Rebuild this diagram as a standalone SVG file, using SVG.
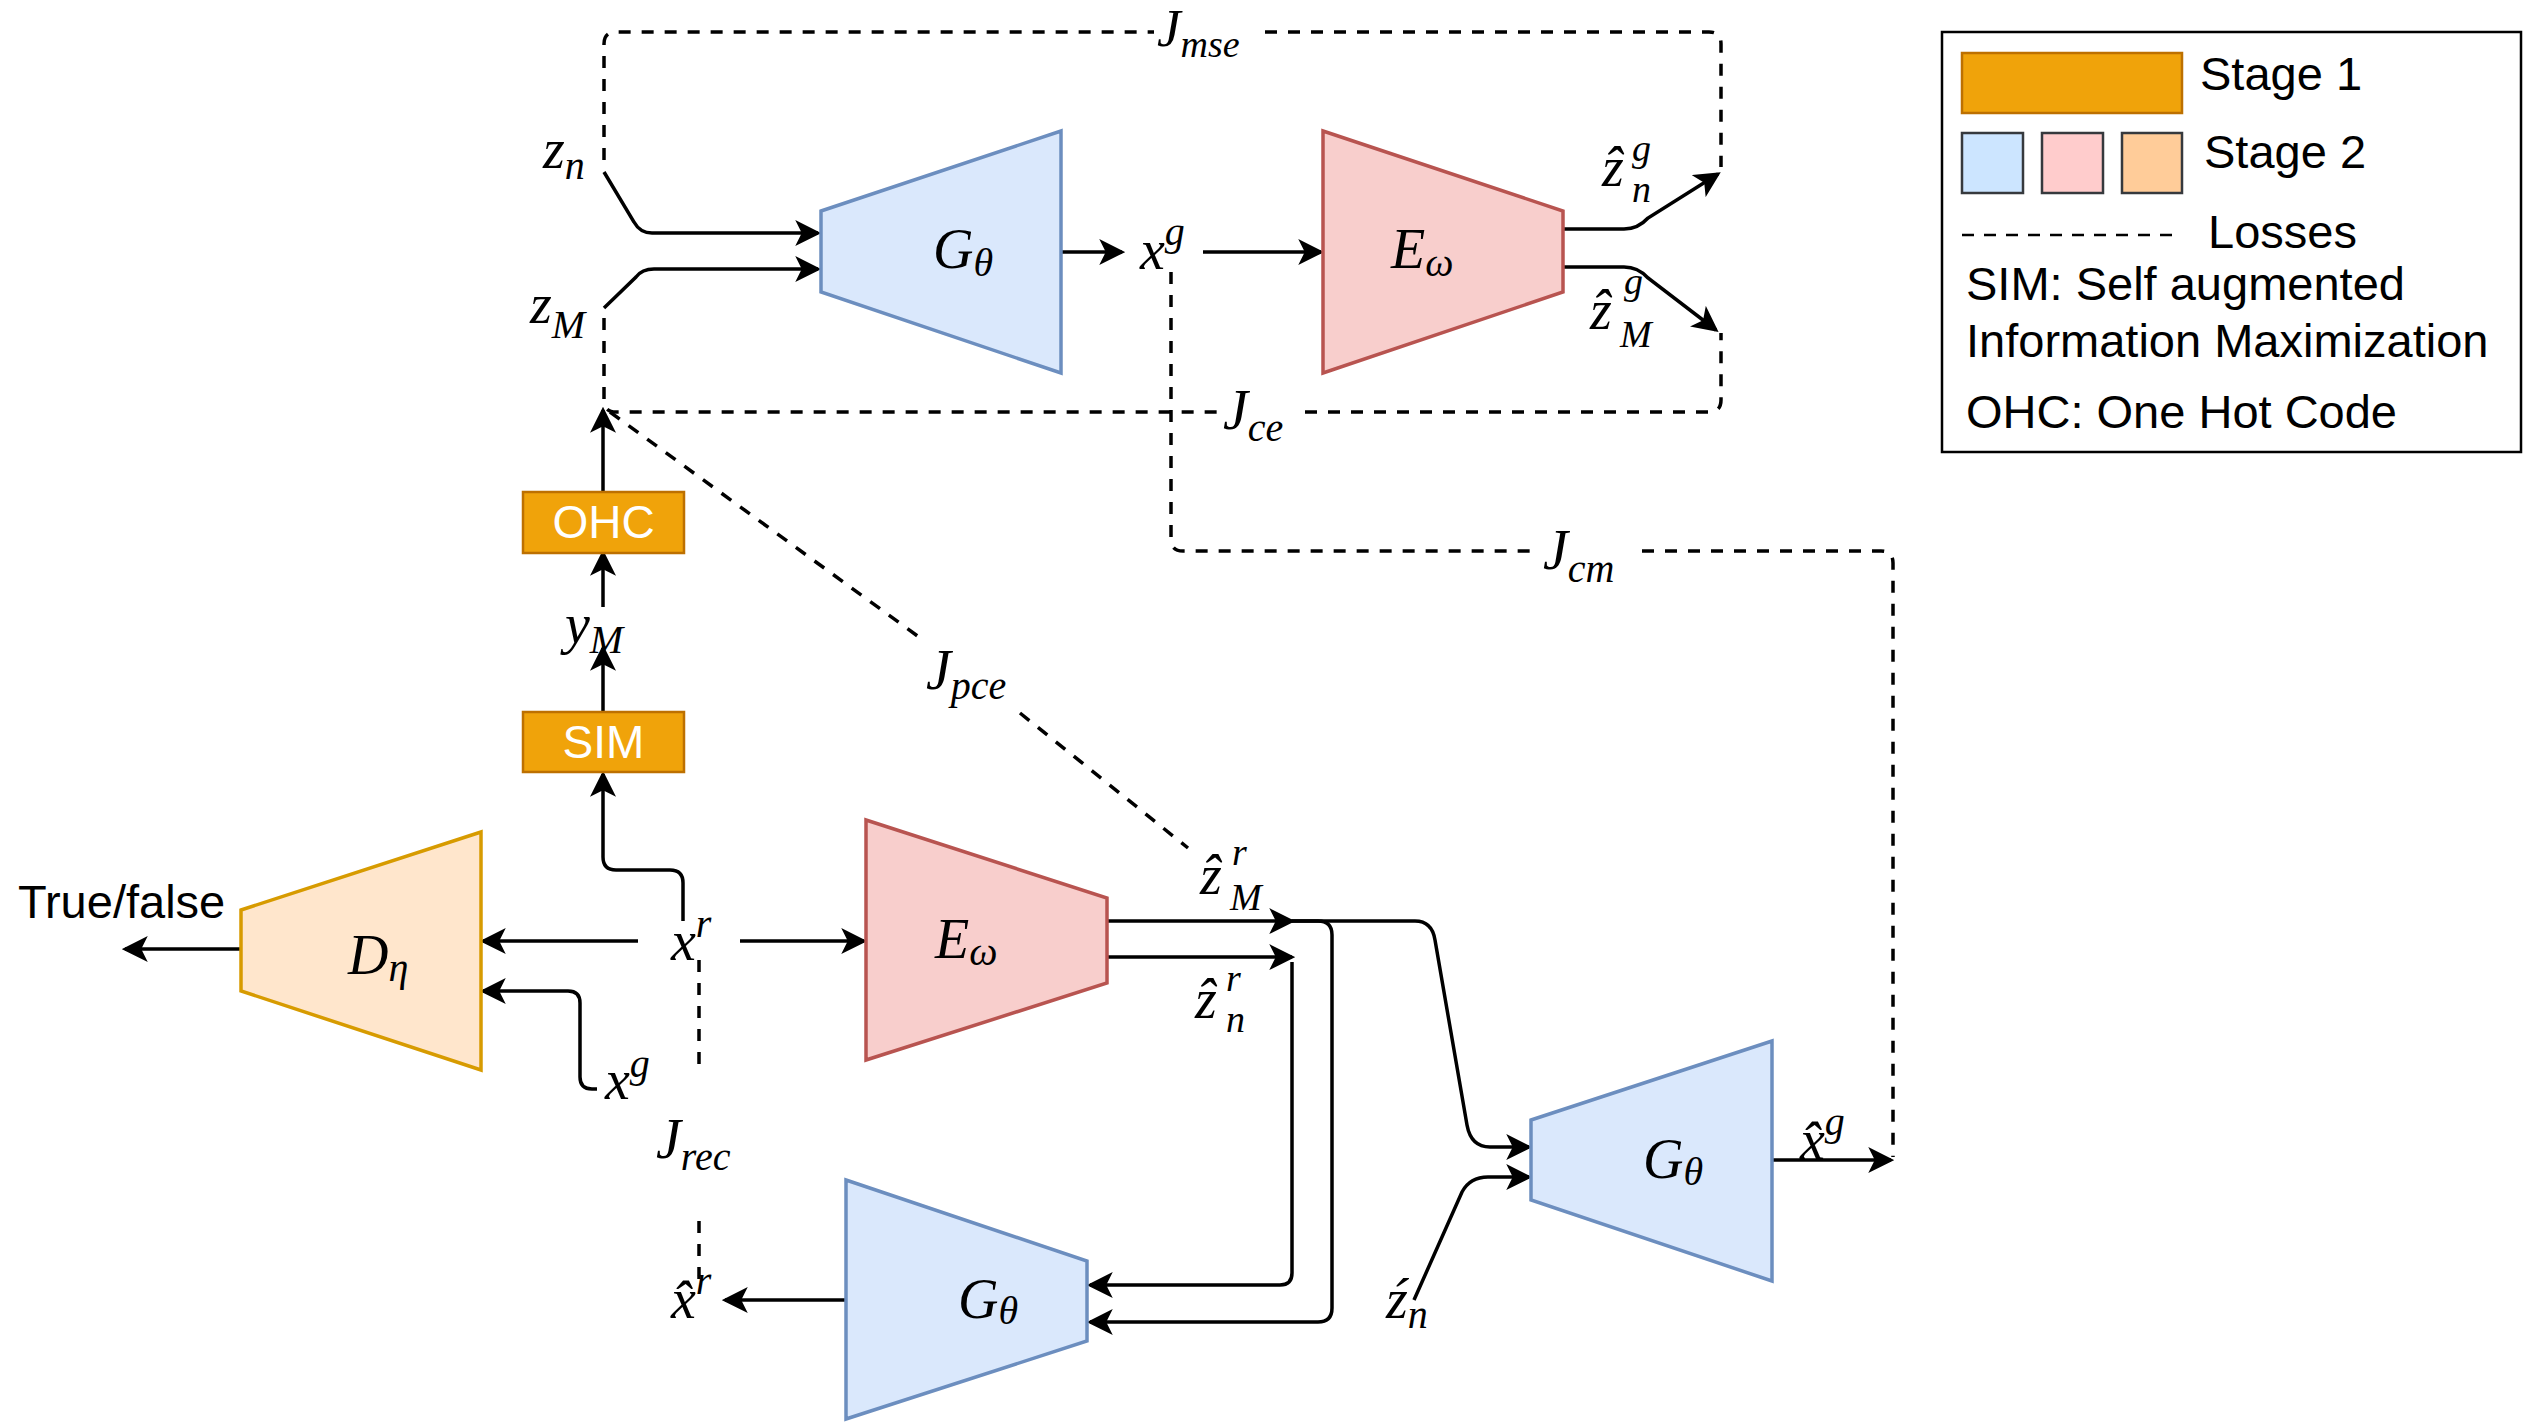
<svg xmlns="http://www.w3.org/2000/svg" width="2525" height="1428" viewBox="0 0 2525 1428">
<defs>
<marker id="ah" markerUnits="userSpaceOnUse" markerWidth="26" markerHeight="26" viewBox="0 0 24 24" refX="21" refY="12" orient="auto">
<path d="M0,0 L24,12 L0,24 L6,12 Z" fill="#000"/>
</marker>
</defs>
<style>
.g{fill:#dae8fc;stroke:#6c8ebf;stroke-width:3.5}
.e{fill:#f8cecc;stroke:#b85450;stroke-width:3.5}
.d{fill:#ffe6cc;stroke:#d79b00;stroke-width:3.5}
.o{fill:#f0a30a;stroke:#bd7000;stroke-width:2.5}
.c{fill:none;stroke:#000;stroke-width:3.5;marker-end:url(#ah)}
.ds{fill:none;stroke:#000;stroke-width:3.5;stroke-dasharray:12 11}
.m{font-family:"Liberation Serif","DejaVu Serif",serif;font-style:italic;font-size:56px;fill:#000}
.s{font-size:40px}
.ss{font-size:38px}
.t{font-family:"Liberation Sans",Arial,sans-serif;font-size:47px;fill:#000}
.w{font-family:"Liberation Sans",Arial,sans-serif;font-size:46px;fill:#fff;text-anchor:middle}
</style>
<rect width="2525" height="1428" fill="#fff"/>

<g id="connectors">
<path class="c" d="M604,172 L634,222 Q640,233 652,233 L818,233"/>
<path class="c" d="M604,308 L636,277 Q642,269 654,269 L818,269"/>
<path class="c" d="M1061,252 L1122,252"/>
<path class="c" d="M1203,252 L1321,252"/>
<path class="c" d="M1563,229 L1624,229 Q1638,229 1648,218 L1718,174"/>
<path class="c" d="M1563,267 L1624,267 Q1638,267 1648,278 L1716,330"/>
<path class="c" d="M603,492 L603,410"/>
<path class="c" d="M603,607 L603,553"/>
<path class="c" d="M603,712 L603,648"/>
<path class="c" d="M683,921 L683,883 Q683,870 670,870 L616,870 Q603,870 603,857 L603,774"/>
<path class="c" d="M638,941 L483,941"/>
<path class="c" d="M740,941 L864,941"/>
<path class="c" d="M597,1089 L592,1089 Q580,1089 580,1077 L580,1003 Q580,991 568,991 L483,991"/>
<path class="c" d="M241,949 L125,949"/>
<path class="c" d="M1107,921 L1292,921"/>
<path class="c" d="M1107,957 L1292,957"/>
<path class="c" d="M1292,962 L1292,1273 Q1292,1285 1280,1285 L1090,1285"/>
<path class="c" d="M1292,921 L1318,921 Q1332,921 1332,935 L1332,1308 Q1332,1322 1318,1322 L1090,1322"/>
<path class="c" d="M1292,921 L1415,921 Q1432,921 1435,940 L1467,1125 Q1471,1147 1490,1147 L1529,1147"/>
<path class="c" d="M1414,1300 L1462,1192 Q1470,1177 1488,1177 L1529,1177"/>
<path class="c" d="M1772,1160 L1891,1160"/>
<path class="c" d="M846,1300 L725,1300"/>
<path class="ds" d="M604,160 L604,44 Q604,32 616,32 L1154,32"/>
<path class="ds" d="M1265,32 L1709,32 Q1721,32 1721,44 L1721,167"/>
<path class="ds" d="M604,318 L604,400 Q604,412 616,412 L1221,412"/>
<path class="ds" d="M1305,412 L1709,412 Q1721,412 1721,400 L1721,333"/>
<path class="ds" d="M610,412 L923,640"/>
<path class="ds" d="M1020,713 L1188,848"/>
<path class="ds" d="M1171,272 L1171,539 Q1171,551 1183,551 L1535,551"/>
<path class="ds" d="M1642,551 L1881,551 Q1893,551 1893,563 L1893,1157"/>
<path class="ds" d="M699,960 L699,1064"/>
<path class="ds" d="M699,1221 L699,1287"/>
</g>

<g id="G_top">
<polygon class="g" points="821,211 1061,131 1061,373 821,292"/>
<text class="m" x="933" y="268">G<tspan class="s" dy="8">θ</tspan></text>
</g>
<g id="E_top">
<polygon class="e" points="1323,131 1563,211 1563,292 1323,373"/>
<text class="m" x="1391" y="268">E<tspan class="s" dy="8">ω</tspan></text>
</g>
<g id="D">
<polygon class="d" points="241,910 481,832 481,1070 241,991"/>
<text class="m" x="348" y="974">D<tspan class="s" dy="7">η</tspan></text>
</g>
<g id="E_bottom">
<polygon class="e" points="866,820 1107,898 1107,983 866,1060"/>
<text class="m" x="935" y="958">E<tspan class="s" dy="7">ω</tspan></text>
</g>
<g id="G_bottom">
<polygon class="g" points="846,1180 1087,1261 1087,1341 846,1419"/>
<text class="m" x="958" y="1318">G<tspan class="s" dy="6">θ</tspan></text>
</g>
<g id="G_right">
<polygon class="g" points="1531,1120 1772,1041 1772,1281 1531,1200"/>
<text class="m" x="1643" y="1178">G<tspan class="s" dy="7">θ</tspan></text>
</g>
<g id="OHC">
<rect class="o" x="523" y="492" width="161" height="61"/>
<text class="w" x="603.5" y="538">OHC</text>
</g>
<g id="SIM">
<rect class="o" x="523" y="712" width="161" height="60"/>
<text class="w" x="603.5" y="758">SIM</text>
</g>

<g id="labels">
<text class="m" x="543" y="168">z<tspan class="s" dy="11">n</tspan></text>
<text class="m" x="530" y="323">z<tspan class="s" dy="15">M</tspan></text>
<text class="m" x="1140" y="269">x<tspan class="s" dy="-24">g</tspan></text>
<text class="m" x="1602" y="186">ẑ</text>
<text class="m ss" x="1632" y="161">g</text>
<text class="m ss" x="1632" y="202">n</text>
<text class="m" x="1590" y="329">ẑ</text>
<text class="m ss" x="1624" y="294">g</text>
<text class="m ss" x="1620" y="347">M</text>
<text class="m" x="1157" y="46" style="font-size:53px">J<tspan class="ss" dy="11">mse</tspan></text>
<text class="m" x="1223" y="429">J<tspan class="s" dy="12">ce</tspan></text>
<text class="m" x="926" y="689">J<tspan class="s" dy="10">pce</tspan></text>
<text class="m" x="1543" y="569">J<tspan class="s" dy="13">cm</tspan></text>
<text class="m" x="656" y="1158">J<tspan class="s" dy="12">rec</tspan></text>
<text class="m" x="565" y="643">y<tspan class="s" dy="10">M</tspan></text>
<text class="m" x="671" y="960">x<tspan class="s" dy="-23">r</tspan></text>
<text class="m" x="605" y="1099">x<tspan class="s" dy="-22">g</tspan></text>
<text class="m" x="671" y="1318">x̂<tspan class="s" dy="-24">r</tspan></text>
<text class="m" x="1200" y="894">ẑ</text>
<text class="m ss" x="1232" y="865">r</text>
<text class="m ss" x="1230" y="910">M</text>
<text class="m" x="1195" y="1018">ẑ</text>
<text class="m ss" x="1226" y="991">r</text>
<text class="m ss" x="1226" y="1032">n</text>
<text class="m" x="1386" y="1318">ź<tspan class="s" dy="10">n</tspan></text>
<text class="m" x="1800" y="1159">x̂<tspan class="s" dy="-24">g</tspan></text>
<text class="t" x="18" y="918">True/false</text>
</g>

<g id="legend">
<rect x="1942" y="32" width="579" height="420" fill="#fff" stroke="#000" stroke-width="2.5"/>
<rect x="1962" y="53" width="220" height="60" fill="#f0a30a" stroke="#bd7000" stroke-width="2.5"/>
<text class="t" x="2200" y="90">Stage 1</text>
<rect x="1962" y="133" width="61" height="60" fill="#cce5ff" stroke="#36393d" stroke-width="2.5"/>
<rect x="2042" y="133" width="61" height="60" fill="#ffcccc" stroke="#36393d" stroke-width="2.5"/>
<rect x="2122" y="133" width="60" height="60" fill="#ffcc99" stroke="#36393d" stroke-width="2.5"/>
<text class="t" x="2204" y="168">Stage 2</text>
<line x1="1962" y1="235" x2="2182" y2="235" stroke="#000" stroke-width="2.5" stroke-dasharray="12 10"/>
<text class="t" x="2208" y="248">Losses</text>
<text class="t" x="1966" y="300">SIM: Self augmented</text>
<text class="t" x="1966" y="357">Information Maximization</text>
<text class="t" x="1966" y="428">OHC: One Hot Code</text>
</g>
</svg>
